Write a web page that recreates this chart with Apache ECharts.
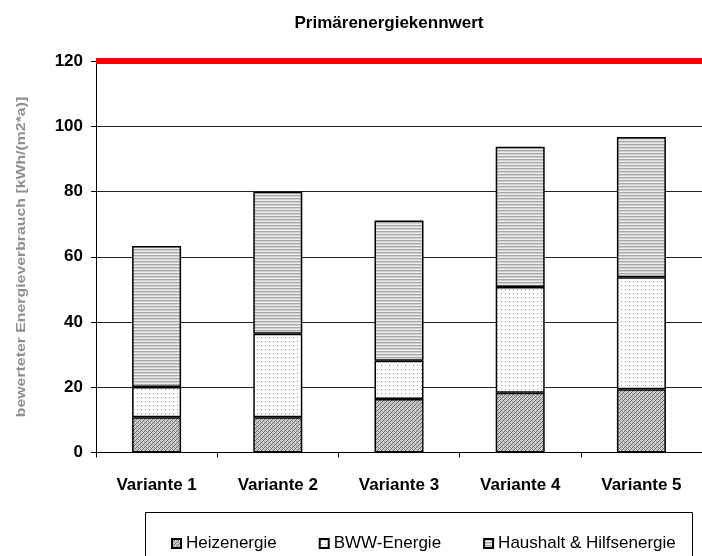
<!DOCTYPE html>
<html>
<head>
<meta charset="utf-8">
<script src="https://cdn.jsdelivr.net/npm/echarts@6/dist/echarts.min.js"></script>
<style>
  html, body { margin: 0; padding: 0; background: #fff; }
  #chart { width: 702px; height: 556px; }
</style>
</head>
<body>
<div id="chart"></div>
<script>
const categories = ['Variante 1', 'Variante 2', 'Variante 3', 'Variante 4', 'Variante 5']
const heizenergie = [10.8, 10.8, 16.4, 18.3, 19.4]
const bwwEnergie = [9.3, 25.6, 11.7, 32.4, 34.3]
const haushalt = [43.2, 43.5, 43.0, 43.0, 43.0]
const yTicks = { min: 0, max: 120, interval: 20 }
const grenzwert = 120

// kleine Muster-Kacheln wie im Excel-Diagramm
function makePattern(w, h, bg, draw) {
  const c = document.createElement('canvas')
  c.width = w
  c.height = h
  const ctx = c.getContext('2d')
  ctx.fillStyle = bg
  ctx.fillRect(0, 0, w, h)
  draw(ctx)
  return { image: c, repeat: 'repeat' }
}

const hatch = makePattern(4, 4, '#d0d0d0', ctx => {
  ctx.fillStyle = '#666666'
  for (let i = 0; i < 4; i++) ctx.fillRect(i, 3 - i, 1, 1)
  ctx.fillStyle = '#a0a0a0'
  ctx.fillRect(0, 1, 1, 1)
  ctx.fillRect(2, 3, 1, 1)
})
const dots = makePattern(4, 4, '#ffffff', ctx => {
  ctx.fillStyle = '#909090'
  ctx.fillRect(1, 1, 1, 1)
})
const stripes = makePattern(4, 3, '#ececec', ctx => {
  ctx.fillStyle = '#a8a8a8'
  ctx.fillRect(0, 0, 4, 1)
  ctx.fillStyle = '#d0d0d0'
  ctx.fillRect(0, 1, 4, 1)
})

const chart = echarts.init(document.getElementById('chart'))
const barStyle = { borderColor: '#000', borderWidth: 1.5 }

const option = {
  animation: false,
  title: {
    text: 'Primärenergiekennwert',
    left: 384,
    top: 10,
    textAlign: 'center',
    textStyle: { fontFamily: 'Liberation Sans', fontWeight: 'bold', fontSize: 17, color: '#000' }
  },
  legend: {
    left: 166,
    top: 530,
    itemWidth: 9,
    itemHeight: 9,
    itemGap: 42,
    icon: 'rect',
    textStyle: { fontFamily: 'Liberation Sans', fontSize: 17, color: '#000' },
    data: ['Heizenergie', 'BWW-Energie', 'Haushalt & Hilfsenergie']
  },
  graphic: [
    {
      type: 'rect',
      shape: { x: 145.5, y: 512.5, width: 547, height: 60 },
      style: { fill: 'none', stroke: '#000', lineWidth: 1 },
      silent: true
    },
    {
      type: 'text',
      x: 22,
      y: 257,
      rotation: Math.PI / 2,
      scaleX: 1.32,
      style: {
        text: 'bewerteter Energieverbrauch [kWh/(m2*a)]',
        font: 'bold 12px "Liberation Sans"',
        fill: '#8f8f8f',
        align: 'center',
        verticalAlign: 'middle'
      },
      silent: true
    }
  ],
  grid: { left: 96, right: -11, top: 61, bottom: 103.5 },
  xAxis: {
    type: 'category',
    data: categories,
    axisLine: { lineStyle: { color: '#000', width: 1 } },
    axisTick: { show: true, length: 5, alignWithLabel: false, lineStyle: { color: '#000' } },
    axisLabel: {
      margin: 24,
      fontFamily: 'Liberation Sans',
      fontWeight: 'bold',
      fontSize: 17,
      color: '#000'
    }
  },
  yAxis: {
    type: 'value',
    min: yTicks.min,
    max: yTicks.max,
    interval: yTicks.interval,
    axisLine: { show: true, lineStyle: { color: '#000', width: 1 } },
    axisTick: { show: true, length: 5, lineStyle: { color: '#000' } },
    splitLine: { lineStyle: { color: '#222', width: 1 } },
    axisLabel: {
      margin: 13,
      fontFamily: 'Liberation Sans',
      fontWeight: 'bold',
      fontSize: 17,
      color: '#000'
    }
  },
  series: [
    {
      name: 'Heizenergie',
      type: 'bar',
      stack: 'total',
      barWidth: 49,
      data: heizenergie,
      itemStyle: Object.assign({ color: hatch }, barStyle)
    },
    {
      name: 'BWW-Energie',
      type: 'bar',
      stack: 'total',
      barWidth: 49,
      data: bwwEnergie,
      itemStyle: Object.assign({ color: dots }, barStyle)
    },
    {
      name: 'Haushalt & Hilfsenergie',
      type: 'bar',
      stack: 'total',
      barWidth: 49,
      data: haushalt,
      itemStyle: Object.assign({ color: stripes }, barStyle),
      markLine: {
        silent: true,
        symbol: 'none',
        label: { show: false },
        lineStyle: { color: '#ff0000', width: 6, type: 'solid' },
        data: [{ yAxis: grenzwert }]
      }
    }
  ]
}

chart.setOption(option)
</script>
</body>
</html>
